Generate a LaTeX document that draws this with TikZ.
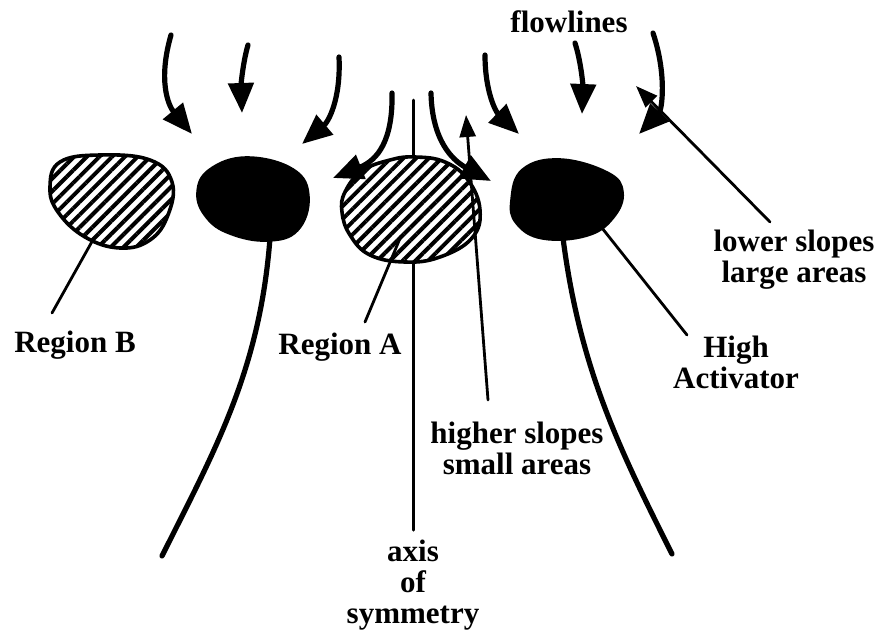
\documentclass[tikz,border=0pt]{standalone}
\usepackage{fontspec}
\setmainfont{Liberation Serif}
\usetikzlibrary{arrows.meta, positioning, patterns.meta}

\tikzset{
  lbl/.style={font=\bfseries\fontsize{15.5}{15.5}\selectfont, align=center, inner sep=0pt},
  leader/.style={line width=1.4pt, line cap=round},
  flowline/.style={line width=2.6pt, line cap=round, -{Triangle[length=15pt, width=12.5pt]}},
  stem/.style={line width=2.6pt, line cap=round},
  hatchblob/.style={line width=1.8pt, preaction={fill=white}, pattern={Lines[angle=45, distance=4.5pt, line width=2pt]}},
  darkblob/.style={line width=1.8pt, fill=black}
}

\begin{document}
\begin{tikzpicture}[x=0.5pt, y=-0.5pt]
\useasboundingbox (0,0) rectangle (878,638);

% axis of symmetry, under region A
\draw[leader, line width=1.5pt] (413,100) -- (413,530) coordinate (axisEnd);

% the four regions
\draw[hatchblob] plot[smooth cycle, tension=0.7] coordinates
  {(60,162) (100,155) (150,160) (172,182) (168,215) (150,240) (120,248) (85,237) (58,212) (50,187)};
\draw[darkblob] plot[smooth cycle, tension=0.7] coordinates
  {(210,170) (247,158) (293,170) (308,197) (297,230) (267,240) (230,233) (207,217) (198,193)};
\draw[hatchblob] plot[smooth cycle, tension=0.7] coordinates
  {(345,192) (362,171) (390,160) (415,157) (445,162) (468,180) (480,210) (472,238) (440,257) (405,262) (370,255) (350,235) (342,212)};
\draw[darkblob] plot[smooth cycle, tension=0.7] coordinates
  {(523,170) (560,160) (607,173) (622,192) (613,217) (587,235) (543,238) (517,223) (512,200)};

% stems
\draw[stem] (270,238) .. controls (260,370) and (215,450) .. (162,556);
\draw[stem] (563,238) .. controls (580,370) and (620,450) .. (672,554);

% flowlines
\draw[flowline] (171,35) .. controls (158,80) and (168,105) .. (192,134);
\draw[flowline] (248,45) .. controls (243,62) and (241,85) .. (242,113);
\draw[flowline] (339,57) .. controls (341,100) and (328,122) .. (302,144);
\draw[flowline] (392,93) .. controls (393,140) and (378,160) .. (333,178);
\draw[flowline] (431,93) .. controls (432,140) and (452,160) .. (491,181);
\draw[flowline] (485,55) .. controls (485,92) and (496,112) .. (519,134);
\draw[flowline] (575,43) .. controls (582,65) and (583,90) .. (582,114);
\draw[flowline] (653,33) .. controls (667,75) and (662,110) .. (639,134);

% labels
\node[lbl] (flow) at (569,22) {flowlines};
\node[lbl] (regB) at (75,345) {Region B};
\node[lbl] (regA) at (340,347) {Region A};
\node[lbl] (hiAct) at (736,362) {High\\Activator};
\node[lbl] (loSlope) at (794,260) {lower slopes\\large areas};
\node[lbl] (hiSlope) at (517,448) {higher slopes\\small areas};
\node[lbl] (axisLbl) at (413,585) {axis\\of\\symmetry};

% leader ends
\coordinate (regBfoot) at (52,313);
\coordinate (regBin) at (94,238);
\coordinate (regAfoot) at (365,322);
\coordinate (regAin) at (401,236);
\coordinate (hiActfoot) at (687,335);
\coordinate (hiActin) at (602,228);
\coordinate (loSlopefoot) at (770,222);
\coordinate (loSlopetip) at (636,86);
\coordinate (hiSlopefoot) at (488,400);
\coordinate (hiSlopetip) at (466,115);

\draw[leader] (regBfoot) -- (regBin);
\draw[leader] (regAfoot) -- (regAin);
\draw[leader] (hiActfoot) -- (hiActin);
\draw[leader, -{Triangle[length=11pt, width=8pt]}] (loSlopefoot) -- (loSlopetip);
\draw[leader, -{Triangle[length=11pt, width=8pt]}] (hiSlopefoot) -- (hiSlopetip);
\end{tikzpicture}
\end{document}
